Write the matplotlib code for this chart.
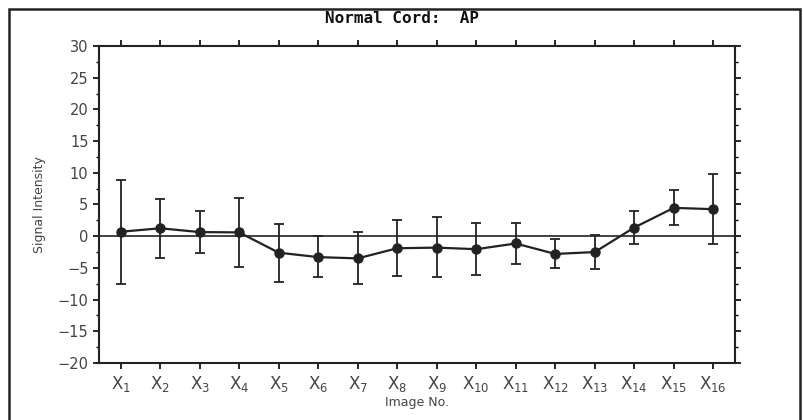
import matplotlib
matplotlib.use("Agg")
import matplotlib.pyplot as plt
from matplotlib.patches import Rectangle
from matplotlib.ticker import MultipleLocator

images = list(range(1, 17))
tick_labels = [f"X$_{{{i}}}$" for i in images]
means = [0.7, 1.25, 0.65, 0.6, -2.6, -3.3, -3.5, -1.9, -1.8, -2.05, -1.15, -2.8, -2.5, 1.37, 4.47, 4.26]
err_upper = [8.9, 5.8, 3.9, 6.1, 2.0, 0.1, 0.6, 2.5, 3.0, 2.05, 2.05, -0.5, 0.26, 4.05, 7.3, 9.8]
err_lower = [-7.5, -3.4, -2.6, -4.8, -7.3, -6.5, -7.6, -6.2, -6.4, -6.1, -4.4, -5.0, -5.2, -1.3, 1.74, -1.2]

plt.rcParams['mathtext.fontset'] = 'custom'
plt.rcParams['mathtext.rm'] = 'DejaVu Sans'
plt.rcParams['mathtext.it'] = 'DejaVu Sans'

fig = plt.figure(figsize=(8.04, 4.2), dpi=100)
ax = fig.add_axes([0.1231, 0.1357, 0.7911, 0.7548])

lo = [m - l for m, l in zip(means, err_lower)]
hi = [u - m for m, u in zip(means, err_upper)]
ax.axhline(0, color='#222222', lw=1.2, zorder=1)
ax.errorbar(images, means, yerr=[lo, hi], fmt='-o', color='#222222', ecolor='#222222',
            elinewidth=1.3, capsize=3.5, capthick=1.3, lw=1.6, markersize=6.5, zorder=3)

ax.set_xlim(0.45, 16.55)
ax.set_ylim(-20, 30)
ax.set_xticks(images)
ax.set_xticklabels(tick_labels, fontsize=12, color='#444444')
ax.yaxis.set_major_locator(MultipleLocator(5))
ax.yaxis.set_minor_locator(MultipleLocator(2.5))
ax.tick_params(axis='y', which='major', length=4, width=1.2, labelsize=10.5, labelcolor='#444444', right=True, direction='out')
ax.tick_params(axis='y', which='minor', length=2.5, width=1.0, right=True, direction='out')
ax.tick_params(axis='x', which='major', length=4, width=1.2, top=True, direction='out', pad=4)
for s in ax.spines.values():
    s.set_linewidth(1.5)
    s.set_color('#222222')

ax.set_ylabel('Signal Intensity', fontsize=9, color='#444444', labelpad=8)
ax.set_xlabel('Image No.', fontsize=9, color='#444444', labelpad=1)
fig.text(0.5, 0.955, 'Normal Cord:  AP', ha='center', va='center', fontsize=11.5,
         fontweight='bold', family='DejaVu Sans Mono', color='#111111')

fig.patches.append(Rectangle((0.011, -0.01), 0.984, 0.988, transform=fig.transFigure,
                             fill=False, lw=1.8, edgecolor='#222222'))

fig.savefig('out.png', dpi=100)
